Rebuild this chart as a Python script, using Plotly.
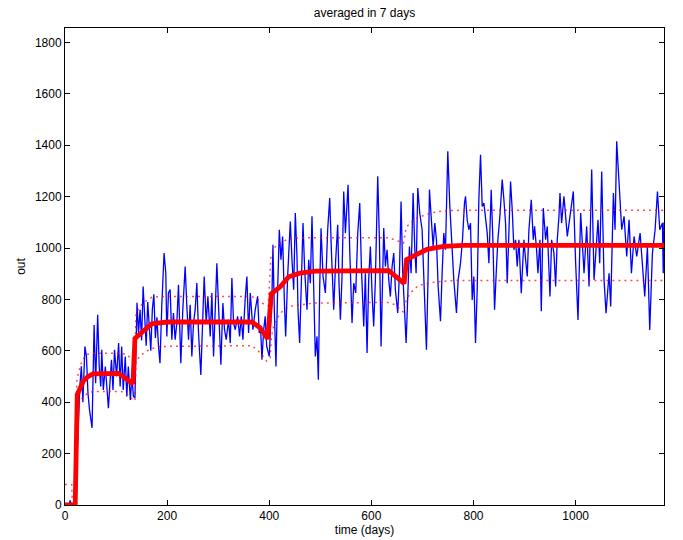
import plotly.graph_objects as go

# Measured series (7-day averaged), as (day, value) vertices
out_days = [
    0, 8, 10, 13, 20, 23, 26, 29, 32, 35, 39, 42, 45, 48, 53, 57, 60, 64, 67, 70,
    72, 75, 79, 85, 88, 91, 94, 97, 101, 105, 108, 111, 114, 118, 121, 124, 128, 131, 134, 137,
    141, 144, 147, 150, 153, 156, 159, 162, 165, 168, 171, 174, 177, 180, 183, 186, 189.5, 194, 197.4, 199.4,
    202.6, 205.9, 209.2, 212.4, 215.7, 219, 222.2, 226.8, 230.7, 235.3, 238.6, 241.9, 245.1, 248.4, 251.7, 254.9, 258.2, 261.5, 266, 270,
    272.6, 276.5, 279.8, 284.4, 287.6, 290.9, 294.1, 297.4, 300.7, 305.3, 309.2, 312.4, 315.7, 320.3, 323.6, 326.8, 330.1, 333.4, 338, 341.9,
    345.1, 348.4, 353, 356.2, 359.5, 362.8, 368, 372.6, 377.2, 380.4, 383, 385.7, 389, 392, 395, 400, 405.3, 407.2, 409.9, 413.1,
    416.4, 419.7, 422.9, 426.2, 429.5, 432.1, 436, 441.2, 444.5, 447.8, 451, 454.3, 456.3, 459.5, 462.8, 466.1, 469.3, 473.9, 477.2, 480.4,
    483.7, 487, 490.2, 493.5, 496.1, 498.7, 501.4, 505.3, 509.9, 514.4, 518.4, 521.6, 526.2, 530.1, 534, 536.6, 539.3, 542.5, 545.8, 549.1,
    554.3, 557.6, 562.1, 565.4, 569.3, 573.3, 577.2, 580.4, 583.7, 585, 588.2, 591.5, 594.7, 598, 601.3, 604.5, 607.8, 612.4, 615.7, 618.9,
    622.2, 624.2, 627.4, 630.7, 634, 637.2, 640.5, 643.8, 647, 651.6, 654.9, 658.1, 661.4, 664.7, 668, 671.2, 674.5, 677.8, 681.7, 685,
    687.6, 690.8, 694.7, 699.3, 702.6, 705.9, 707.8, 711.1, 713.7, 717, 720.9, 724.2, 727.4, 730.7, 735.3, 738.5, 741.8, 745.1, 749.6, 753.6,
    758.1, 761.4, 766.6, 769.9, 774.5, 778.4, 782.3, 784.3, 787.6, 790.8, 794.1, 797.4, 800.6, 803.9, 807.2, 810.4, 813.7, 817, 820.3, 823.5,
    826.8, 830.1, 834.6, 837.9, 841.2, 844.4, 847.7, 851.6, 856.2, 859.5, 862.7, 866, 869.3, 872.5, 875.8, 879.1, 882.3, 885.6, 888.9, 893.5,
    896.1, 898.7, 902, 905.2, 908.5, 913.1, 917, 919.6, 923.5, 926.1, 930.1, 932.7, 936.6, 941.2, 944.4, 947.7, 949.7, 952.9, 957.5, 960.8,
    964, 967.3, 969.3, 972.5, 977.1, 983.7, 990.2, 995.4, 1000, 1004.6, 1009.8, 1016.4, 1021.6, 1026.2, 1031.4, 1036, 1043.8, 1047.1, 1051, 1055.6,
    1059.5, 1065.4, 1068.6, 1073.9, 1077.1, 1080.4, 1085, 1090.2, 1094.8, 1100, 1104.6, 1109.2, 1114.4, 1119.6, 1126.2, 1130.7, 1135.3, 1140.5, 1145.1, 1150.3,
    1155.6, 1160.2, 1164.7, 1170, 1171.5, 1173,
]
out_vals = [
    0, 0, 18, 0, 0, 160, 280, 460, 540, 400, 617, 578, 435, 370, 300, 700, 474, 740, 539, 461,
    604, 448, 539, 377, 474, 565, 448, 604, 500, 630, 461, 617, 448, 578, 422, 539, 409, 500, 422, 417,
    787, 669, 760, 640, 850, 700, 620, 790, 700, 600, 760, 820, 650, 730, 620, 552, 773, 980, 903, 656,
    825, 838, 643, 747, 643, 708, 857, 552, 760, 928, 773, 643, 779, 578, 708, 760, 864, 669, 506, 773,
    889, 708, 812, 656, 825, 578, 773, 941, 773, 546, 786, 682, 643, 721, 630, 883, 708, 682, 734, 656,
    734, 643, 806, 889, 669, 825, 682, 760, 812, 669, 690, 565, 680, 734, 617, 578, 812, 1013, 760, 539,
    838, 1071, 954, 1045, 799, 656, 889, 1103, 954, 838, 1136, 967, 760, 630, 863, 1097, 915, 760, 954, 863,
    1123, 773, 578, 656, 487, 838, 1077, 889, 825, 1071, 1194, 993, 760, 954, 1090, 863, 721, 889, 1220, 1058,
    1246, 993, 708, 863, 825, 1058, 1175, 928, 773, 695, 902, 591, 876, 1006, 824, 695, 876, 1279, 1032, 617,
    902, 1078, 928, 993, 876, 811, 928, 980, 837, 747, 902, 1181, 902, 747, 630, 811, 1006, 902, 1214, 993,
    902, 1233, 1136, 1071, 902, 747, 604, 902, 1227, 1123, 1006, 1097, 1032, 850, 715, 902, 1058, 993, 1376, 1162,
    974, 876, 747, 876, 941, 1032, 1175, 1201, 1110, 1071, 1097, 798, 889, 630, 837, 1188, 1363, 1162, 1175, 1123,
    1058, 941, 1227, 1032, 760, 902, 1032, 1123, 1266, 1188, 1097, 863, 1084, 1259, 1149, 993, 1032, 928, 1032, 824,
    928, 1032, 954, 889, 1071, 1188, 1032, 1084, 993, 902, 1032, 754, 1155, 1032, 1084, 902, 811, 1032, 980, 850,
    1032, 1123, 1214, 1097, 1201, 1045, 1136, 1220, 941, 720, 1136, 902, 1084, 850, 1305, 876, 1110, 941, 1298, 876,
    746, 902, 772, 1214, 1071, 1415, 1253, 1071, 1123, 967, 1110, 902, 1045, 967, 1058, 941, 811, 1006, 681, 980,
    1071, 1220, 1071, 1097, 902, 1100,
]

# Estimated level (thick line)
level_days = [0, 20, 24, 30, 36, 45, 55, 105, 133, 137, 150, 170, 200, 366, 382, 397, 404, 422, 438, 460,
              490, 634, 664, 669, 689, 709, 741, 780, 1173]
level_vals = [0, 0, 430, 460, 482, 500, 510, 512, 472, 648, 672, 705, 712, 712, 690, 646, 822, 850, 888, 902,
              910, 912, 862, 955, 975, 995, 1006, 1010, 1010]

# Upper and lower bands (dotted)
upper_days = [0, 13, 14, 20, 23, 27, 33, 42, 52, 110, 122, 133, 137, 139, 145, 157, 170, 190, 366, 378,
              390, 398, 403, 409, 421, 434, 454, 475, 634, 645, 655, 663, 668, 676, 689, 702, 716, 741, 780, 1173]
upper_vals = [80, 80, 30, 30, 480, 520, 560, 585, 590, 590, 585, 560, 560, 740, 770, 792, 808, 811, 811, 799,
              780, 775, 960, 1000, 1019, 1032, 1039, 1040, 1040, 1032, 1025, 1019, 1080, 1097, 1117, 1126, 1136, 1145, 1147, 1147]
lower_days = [0, 20, 23, 28, 35, 45, 55, 110, 122, 133, 137, 139, 150, 165, 185, 366, 376, 386, 395, 402,
              404, 409, 418, 428, 441, 461, 487, 634, 645, 655, 663, 668, 676, 692, 719, 760, 1173]
lower_vals = [-80, -80, 380, 395, 420, 435, 442, 442, 430, 410, 405, 560, 585, 605, 617, 620, 604, 584, 560, 571,
              650, 701, 734, 760, 773, 779, 786, 788, 780, 765, 750, 795, 824, 854, 866, 874, 874]

x_ticks = [0, 200, 400, 600, 800, 1000]
y_ticks = [0, 200, 400, 600, 800, 1000, 1200, 1400, 1600, 1800]

fig = go.Figure()
fig.add_trace(go.Scatter(x=out_days, y=out_vals, mode="lines",
                         line=dict(color="#0000ff", width=1.3), showlegend=False))
for d, v in ((upper_days, upper_vals), (lower_days, lower_vals)):
    fig.add_trace(go.Scatter(x=d, y=v, mode="lines",
                             line=dict(color="rgba(255,0,0,0.7)", width=1.5, dash="2px,4px"),
                             showlegend=False))
fig.add_trace(go.Scatter(x=level_days, y=level_vals, mode="lines",
                         line=dict(color="#ff0000", width=4.8), showlegend=False))

font = dict(family="Liberation Sans, Arial, sans-serif", size=12, color="black")
axis_common = dict(showgrid=False, zeroline=False, showline=True, linecolor="black", linewidth=1,
                   mirror="ticks", ticks="inside", ticklen=5, tickcolor="black", tickwidth=1,
                   tickfont=font, automargin=False)

fig.update_layout(
    width=683, height=540,
    margin=dict(l=65, r=19, t=28, b=35),
    paper_bgcolor="white", plot_bgcolor="white",
    font=font,
    title=dict(text="averaged in 7 days", x=0.5, xref="paper", y=1 - 13 / 540, yref="container",
               yanchor="middle", xanchor="center", font=font),
    xaxis=dict(range=[0, 1173], tickvals=x_ticks, ticktext=[str(t) for t in x_ticks],
               title=dict(text="time (days)", font=font, standoff=2), **axis_common),
    yaxis=dict(range=[0, 1856], tickvals=y_ticks, ticktext=[str(t) for t in y_ticks],
               title=dict(text="out", font=font, standoff=6), **axis_common),
)

fig.write_html("out.html")
